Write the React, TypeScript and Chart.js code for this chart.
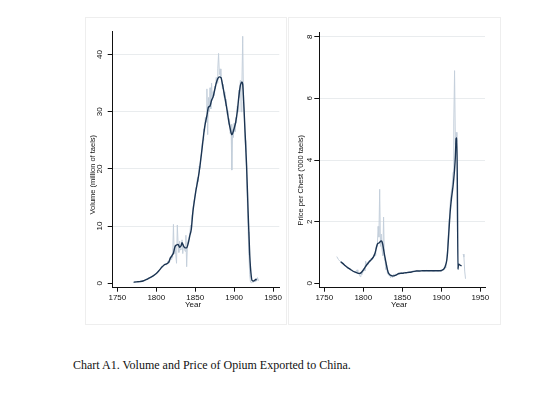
import React, { useEffect, useRef } from "react";
import { Chart, registerables } from "chart.js";

Chart.register(...registerables);

// ---------- DATA ----------
const xTicks = [1750, 1800, 1850, 1900, 1950];
const volumeTicks = [0, 10, 20, 30, 40];
const priceTicks = [0, 2, 4, 6, 8];

const volumeTitle = "Volume (million of taels)";
const priceTitle = "Price per Chest ('000 taels)";
const xTitle = "Year";
const caption = "Chart A1.  Volume and Price of Opium Exported to China.";

// smoothed volume (dark line)
const volumeSmoothYears = [1771, 1775, 1779, 1783, 1788, 1792, 1796, 1800, 1804, 1807, 1810, 1813, 1816, 1818, 1820, 1822, 1824, 1826, 1828, 1830, 1832, 1833, 1835, 1837, 1839, 1841, 1843, 1845, 1847, 1849, 1851, 1853, 1855, 1857, 1859, 1861, 1863, 1865, 1867, 1869, 1871, 1873, 1875, 1877, 1879, 1881, 1883, 1885, 1887, 1889, 1891, 1893, 1895, 1897, 1898, 1900, 1902, 1904, 1906, 1908, 1909, 1910, 1911, 1912, 1913, 1914, 1916, 1918, 1920, 1922, 1923, 1925, 1927, 1929];
const volumeSmooth = [0.2, 0.25, 0.3, 0.4, 0.7, 1.0, 1.3, 1.7, 2.3, 2.8, 3.2, 3.4, 3.7, 4.4, 4.8, 5.3, 6.4, 6.7, 6.8, 6.3, 6.6, 7.1, 6.5, 6.2, 6.2, 7.0, 8.3, 9.5, 12.5, 14.5, 16.3, 17.8, 19.4, 21.5, 23.8, 26.2, 28.0, 29.3, 30.8, 31.0, 32.0, 32.6, 33.8, 35.0, 35.8, 36.1, 36.0, 34.8, 33.3, 31.8, 30.2, 28.4, 27.0, 26.0, 26.2, 27.1, 28.2, 30.0, 32.6, 34.6, 35.0, 35.2, 34.8, 32.5, 29.5, 26.5, 20.5, 12.3, 5.0, 1.2, 0.5, 0.4, 0.6, 0.7];

// annual volume (light line)
const volumeRawYears = [1770, 1775, 1780, 1785, 1790, 1795, 1800, 1803, 1805, 1807, 1809, 1811, 1813, 1815, 1817, 1818, 1819, 1820, 1821, 1822, 1823, 1824, 1825, 1826, 1827, 1828, 1829, 1830, 1831, 1832, 1833, 1834, 1835, 1836, 1837, 1838, 1839, 1840, 1841, 1842, 1843, 1844, 1845, 1846, 1847, 1848, 1849, 1850, 1851, 1852, 1853, 1854, 1855, 1856, 1857, 1858, 1859, 1860, 1861, 1862, 1863, 1864, 1865, 1866, 1867, 1868, 1869, 1870, 1871, 1872, 1873, 1874, 1875, 1876, 1877, 1878, 1879, 1880, 1881, 1882, 1883, 1884, 1885, 1886, 1887, 1888, 1889, 1890, 1891, 1892, 1893, 1894, 1895, 1896, 1897, 1898, 1899, 1900, 1901, 1902, 1903, 1904, 1905, 1906, 1907, 1908, 1909, 1910, 1911, 1912, 1913, 1914, 1915, 1916, 1917, 1918, 1919, 1920, 1921, 1922, 1923, 1924, 1925, 1926, 1927, 1928, 1929, 1930, 1931, 1932];
const volumeRaw = [0.1, 0.3, 0.35, 0.55, 0.9, 1.2, 1.6, 2.2, 2.5, 3.0, 2.9, 3.4, 3.2, 3.9, 3.6, 4.6, 4.2, 5.0, 4.5, 10.3, 5.2, 6.6, 5.0, 3.5, 10.2, 6.9, 5.4, 7.4, 5.8, 6.0, 7.6, 5.2, 6.8, 6.2, 5.6, 8.4, 2.9, 6.8, 7.6, 8.0, 8.6, 10.2, 9.8, 12.0, 13.0, 14.0, 14.8, 15.6, 16.8, 17.5, 18.5, 17.8, 20.5, 20.2, 22.0, 22.6, 24.5, 25.0, 27.0, 26.5, 29.0, 28.2, 34.0, 26.0, 32.5, 30.0, 34.2, 30.5, 35.0, 32.0, 33.5, 32.8, 34.5, 34.0, 36.0, 35.0, 37.5, 40.2, 36.5, 37.5, 36.2, 35.5, 34.0, 34.8, 32.5, 33.5, 31.0, 32.2, 29.5, 30.2, 27.8, 28.8, 26.2, 27.8, 19.8, 27.0, 25.5, 28.0, 26.5, 29.0, 28.0, 31.0, 30.0, 33.8, 32.5, 35.5, 30.0, 35.0, 43.2, 32.0, 30.0, 25.0, 23.0, 19.0, 14.0, 9.0, 5.0, 1.5, 0.2, 0.1, 0.2, 0.3, 0.2, 0.5, 0.3, 0.9, 0.4, 1.0, 0.5, 0.6];

// smoothed price (dark line)
const priceSmoothYears = [1771, 1774, 1777, 1780, 1783, 1786, 1789, 1792, 1795, 1797, 1799, 1801, 1803, 1805, 1807, 1809, 1811, 1813, 1815, 1817, 1818, 1819, 1820, 1821, 1822, 1823, 1824, 1825, 1826, 1827, 1828, 1829, 1830, 1831, 1832, 1834, 1836, 1838, 1840, 1842, 1844, 1846, 1848, 1850, 1853, 1856, 1859, 1862, 1865, 1868, 1872, 1876, 1880, 1884, 1888, 1892, 1896, 1899, 1901, 1903, 1905, 1907, 1908, 1909, 1910, 1911, 1912, 1913, 1914, 1915, 1916, 1917, 1918, 1919, 1920, 1921.4, 1922, 1924, 1926];
const priceSmooth = [0.70, 0.64, 0.57, 0.51, 0.46, 0.41, 0.37, 0.34, 0.32, 0.34, 0.40, 0.47, 0.55, 0.62, 0.68, 0.74, 0.79, 0.86, 0.98, 1.18, 1.27, 1.30, 1.31, 1.33, 1.37, 1.38, 1.35, 1.26, 1.10, 0.95, 0.82, 0.68, 0.55, 0.44, 0.35, 0.28, 0.25, 0.24, 0.25, 0.27, 0.30, 0.32, 0.33, 0.33, 0.34, 0.35, 0.36, 0.37, 0.39, 0.40, 0.40, 0.41, 0.41, 0.41, 0.41, 0.41, 0.41, 0.41, 0.43, 0.46, 0.55, 0.75, 1.0, 1.4, 1.8, 2.2, 2.5, 2.75, 2.95, 3.15, 3.4, 3.7, 4.1, 4.7, 4.72, 0.45, 0.63, 0.59, 0.57];

// annual price (light line)
const priceRawYears = [1766, 1768, 1770, 1773, 1776, 1779, 1782, 1785, 1788, 1790, 1792, 1793, 1795, 1796, 1797, 1798, 1799, 1800, 1801, 1802, 1803, 1804, 1805, 1806, 1807, 1808, 1809, 1810, 1811, 1812, 1813, 1814, 1815, 1816, 1817, 1818, 1819, 1820, 1821, 1822, 1823, 1824, 1825, 1826, 1827, 1828, 1829, 1830, 1831, 1832, 1833, 1834, 1835, 1836, 1837, 1838, 1839, 1840, 1841, 1843, 1845, 1847, 1849, 1851, 1853, 1855, 1857, 1860, 1863, 1866, 1869, 1872, 1875, 1878, 1881, 1884, 1887, 1890, 1893, 1896, 1899, 1901, 1903, 1905, 1906, 1907, 1908, 1909, 1910, 1911, 1912, 1913, 1914, 1915, 1916, 1917, 1918, 1919, 1920, 1921, 1924, 1928, 1929, 1930, 1931];
const priceRaw = [0.87, 0.78, 0.72, 0.66, 0.6, 0.52, 0.47, 0.42, 0.38, 0.34, 0.44, 0.33, 0.28, 0.22, 0.36, 0.27, 0.32, 0.42, 0.5, 0.4, 0.72, 0.55, 0.68, 0.62, 0.73, 0.75, 0.7, 0.82, 0.78, 0.85, 0.82, 0.95, 0.9, 1.1, 1.25, 1.2, 1.85, 1.5, 3.05, 1.2, 1.6, 1.1, 0.9, 2.15, 0.8, 0.7, 0.45, 0.6, 0.3, 0.35, 0.25, 0.3, 0.18, 0.28, 0.2, 0.22, 0.3, 0.22, 0.3, 0.28, 0.33, 0.3, 0.35, 0.32, 0.36, 0.33, 0.37, 0.36, 0.4, 0.38, 0.42, 0.39, 0.42, 0.4, 0.42, 0.4, 0.42, 0.39, 0.42, 0.4, 0.43, 0.41, 0.45, 0.5, 0.62, 0.8, 1.1, 1.6, 2.1, 2.45, 2.8, 3.0, 3.2, 3.6, 5.2, 6.9, 4.5, 4.9, 4.6, 0.5, null, 0.95, 0.85, 0.4, 0.15];

// ---------- STYLE ----------
const DARK = "#1b3452";
const LIGHT = "#c4cfdb";
const GRID = "#e9ecee";
const AXIS = "#111111";
const SANS = '"Liberation Sans", Arial, Helvetica, sans-serif';

const titlesPlugin = {
  id: "axisTitles",
  afterDraw(chart: any, _args: any, opts: any) {
    const ctx = chart.ctx;
    const ca = chart.chartArea;
    ctx.save();
    ctx.fillStyle = AXIS;
    ctx.textAlign = "center";
    ctx.textBaseline = "middle";
    ctx.font = `${opts.ySize}px ${SANS}`;
    ctx.translate(ca.left + opts.yDx, (ca.top + ca.bottom) / 2 + opts.yDy);
    ctx.rotate(-Math.PI / 2);
    ctx.fillText(opts.yText, 0, 0);
    ctx.restore();
    ctx.save();
    ctx.fillStyle = AXIS;
    ctx.textAlign = "center";
    ctx.textBaseline = "middle";
    ctx.font = `${opts.xSize}px ${SANS}`;
    ctx.fillText(opts.xText, (ca.left + ca.right) / 2 + opts.xDx, ca.bottom + opts.xDy);
    ctx.restore();
  },
};

type PanelProps = {
  left: number; top: number; width: number; height: number;
  area: { left: number; top: number; right: number; bottom: number };
  xMin: number; xMax: number; yMin: number; yMax: number;
  yTicks: number[]; yTitle: string; yTickPad: number;
  yDx: number; yDy: number;
  smoothX: number[]; smoothY: number[]; rawX: number[]; rawY: (number | null)[];
};

function Panel(p: PanelProps) {
  const ref = useRef<HTMLCanvasElement | null>(null);
  useEffect(() => {
    if (!ref.current) return;
    const chart = new Chart(ref.current, {
      type: "line",
      data: {
        datasets: [
          {
            data: p.smoothX.map((x, i) => ({ x, y: p.smoothY[i] })),
            borderColor: DARK,
            borderWidth: 1.4,
            pointRadius: 0,
            cubicInterpolationMode: "monotone",
            fill: false,
          },
          {
            data: p.rawX.map((x, i) => ({ x, y: p.rawY[i] })),
            borderColor: LIGHT,
            borderWidth: 1,
            pointRadius: 0,
            tension: 0,
            fill: false,
            spanGaps: false,
          },
        ],
      } as any,
      options: {
        responsive: false,
        animation: false,
        devicePixelRatio: 1,
        layout: { padding: { left: 0, top: p.area.top, right: p.width - p.area.right, bottom: 0 } },
        plugins: {
          legend: { display: false },
          tooltip: { enabled: false },
          axisTitles: { yText: p.yTitle, ySize: 7.5, yDx: p.yDx, yDy: p.yDy, xText: xTitle, xSize: 8, xDx: -3, xDy: 16.6 },
        } as any,
        scales: {
          x: {
            type: "linear",
            min: p.xMin,
            max: p.xMax,
            afterBuildTicks: (s: any) => { s.ticks = xTicks.map((v) => ({ value: v })); },
            afterFit: (s: any) => { s.height = p.height - p.area.bottom; s.paddingLeft = 0; s.paddingRight = 0; },
            grid: { drawOnChartArea: false, tickLength: 4, tickColor: AXIS, tickWidth: 1 },
            border: { color: AXIS, width: 1 },
            ticks: { color: AXIS, font: { family: SANS, size: 8 }, padding: 1, maxRotation: 0, minRotation: 0, autoSkip: false, callback: (v: any) => String(v) },
          },
          y: {
            type: "linear",
            min: p.yMin,
            max: p.yMax,
            afterBuildTicks: (s: any) => { s.ticks = p.yTicks.map((v) => ({ value: v })); },
            afterFit: (s: any) => { s.width = p.area.left; s.paddingTop = 0; s.paddingBottom = 0; },
            grid: {
              color: (c: any) => (c.tick && c.tick.value === 0 ? "rgba(0,0,0,0)" : GRID),
              lineWidth: 1,
              tickLength: 5,
              tickColor: AXIS,
              tickWidth: 1,
            },
            border: { color: AXIS, width: 1 },
            ticks: { color: AXIS, font: { family: SANS, size: 8 }, padding: p.yTickPad, minRotation: 90, maxRotation: 90, crossAlign: "center", autoSkip: false, callback: (v: any) => String(v) },
          },
        },
      } as any,
      plugins: [titlesPlugin],
    });
    return () => chart.destroy();
  }, []);
  return (
    <canvas
      ref={ref}
      width={p.width}
      height={p.height}
      style={{ position: "absolute", left: p.left, top: p.top, width: p.width, height: p.height }}
    />
  );
}

export default function App() {
  return (
    <div style={{ position: "absolute", left: 0, top: 0, width: 540, height: 396, background: "#ffffff", overflow: "hidden" }}>
      <div style={{ position: "absolute", left: 85, top: 17, width: 202, height: 308, border: "1px solid #eeeeee", boxSizing: "border-box" }} />
      <div style={{ position: "absolute", left: 288, top: 17, width: 213, height: 308, border: "1px solid #eeeeee", boxSizing: "border-box" }} />
      <Panel
        left={80} top={20} width={205} height={300}
        area={{ left: 32.7, top: 11.7, right: 199.3, bottom: 267.7 }}
        xMin={1744} xMax={1958} yMin={-0.77} yMax={44}
        yTicks={volumeTicks} yTitle={volumeTitle} yTickPad={3.2}
        yDx={-20.2} yDy={15}
        smoothX={volumeSmoothYears} smoothY={volumeSmooth}
        rawX={volumeRawYears} rawY={volumeRaw}
      />
      <Panel
        left={290} top={20} width={200} height={300}
        area={{ left: 29.3, top: 12.7, right: 195, bottom: 267.7 }}
        xMin={1743.6} xMax={1956} yMin={-0.14} yMax={8.13}
        yTicks={priceTicks} yTitle={priceTitle} yTickPad={2.3}
        yDx={-18.6} yDy={20}
        smoothX={priceSmoothYears} smoothY={priceSmooth}
        rawX={priceRawYears} rawY={priceRaw}
      />
      <div
        style={{
          position: "absolute", left: 73, top: 358.5, whiteSpace: "nowrap",
          fontFamily: '"Liberation Serif", "Times New Roman", serif', fontSize: 12, lineHeight: "12px", color: "#111",
        }}
      >
        {caption}
      </div>
    </div>
  );
}
